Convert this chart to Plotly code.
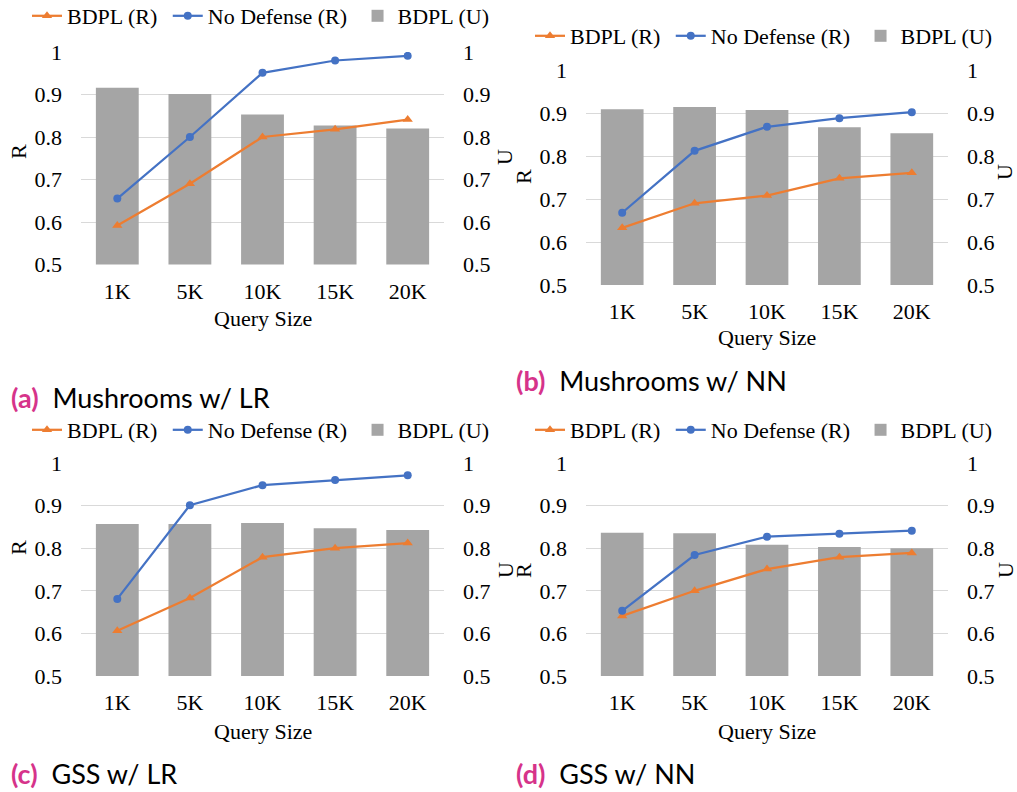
import plotly.graph_objects as go

categories = ["1K", "5K", "10K", "15K", "20K"]

# Panel (a) Mushrooms w/ LR
a_bdpl_r = [0.592, 0.690, 0.800, 0.818, 0.841]
a_nodef_r = [0.655, 0.800, 0.951, 0.980, 0.991]
a_bdpl_u = [0.916, 0.901, 0.853, 0.827, 0.820]

# Panel (b) Mushrooms w/ NN
b_bdpl_r = [0.633, 0.690, 0.708, 0.748, 0.761]
b_nodef_r = [0.668, 0.812, 0.868, 0.888, 0.902]
b_bdpl_u = [0.909, 0.914, 0.907, 0.867, 0.853]

# Panel (c) GSS w/ LR
c_bdpl_r = [0.606, 0.683, 0.779, 0.800, 0.812]
c_nodef_r = [0.681, 0.901, 0.948, 0.960, 0.971]
c_bdpl_u = [0.857, 0.857, 0.859, 0.847, 0.843]

# Panel (d) GSS w/ NN
d_bdpl_r = [0.641, 0.700, 0.751, 0.779, 0.789]
d_nodef_r = [0.653, 0.784, 0.827, 0.834, 0.841]
d_bdpl_u = [0.836, 0.835, 0.808, 0.803, 0.800]

y_ticks = [0.5, 0.6, 0.7, 0.8, 0.9, 1.0]
y_ticktext = ["0.5", "0.6", "0.7", "0.8", "0.9", "1"]

series_names = ["BDPL (R)", "No Defense (R)", "BDPL (U)"]

captions = [("(a)", "Mushrooms w/ LR"), ("(b)", "Mushrooms w/ NN"),
            ("(c)", "GSS w/ LR"), ("(d)", "GSS w/ NN")]

W, H = 1017, 792
ORANGE = "#ED7D31"
BLUE = "#4472C4"
GRAY = "#A5A5A5"
GRID = "#D9D9D9"
MAGENTA = "#D6338A"
SERIF = "Liberation Serif"
SANS = "Lato"
FS = 22
NB = "\u00a0"

# panel pixel geometry: (x0, x1, ytop(1.0), ybottom(0.5))
panels = [
    (81, 444, 52, 264.5),
    (586, 948, 70, 285),
    (81, 444, 463, 676),
    (586, 948, 463, 676),
]
data = [
    (a_bdpl_r, a_nodef_r, a_bdpl_u),
    (b_bdpl_r, b_nodef_r, b_bdpl_u),
    (c_bdpl_r, c_nodef_r, c_bdpl_u),
    (d_bdpl_r, d_nodef_r, d_bdpl_u),
]
# legend (x left, y centre) in pixels
legend_pos = [(27, 16), (530, 36), (27, 430), (530, 430)]
rtitle_pos = [(18, 152), (523, 177), (18, 548), (523, 571)]
utitle_pos = [(505, 157), (1005, 172), (505, 570), (1005, 570)]
caption_pos = [(9, 397), (514, 380), (9, 773), (514, 773)]
xtitle_y = [318, 338, 731, 731]

fig = go.Figure()
layout = {}
annotations = []

for i, ((x0, x1, yt, yb), (br, nr, bu)) in enumerate(zip(panels, data)):
    n = i + 1
    xa = "x" if n == 1 else f"x{n}"
    ybase_n = 2 * i + 1
    yover_n = 2 * i + 2
    yb_name = "y" if ybase_n == 1 else f"y{ybase_n}"
    yo_name = f"y{yover_n}"
    leg = "legend" if n == 1 else f"legend{n}"

    fig.add_trace(go.Scatter(
        x=categories, y=br, name=series_names[0] + NB, mode="lines+markers",
        line=dict(color=ORANGE, width=2.25),
        marker=dict(symbol="triangle-up", size=9, color=ORANGE),
        xaxis=xa, yaxis=yo_name, legend=leg))
    fig.add_trace(go.Scatter(
        x=categories, y=nr, name=series_names[1] + NB, mode="lines+markers",
        line=dict(color=BLUE, width=2.25),
        marker=dict(symbol="circle", size=8, color=BLUE),
        xaxis=xa, yaxis=yo_name, legend=leg))
    fig.add_trace(go.Bar(
        x=categories, y=bu, name=series_names[2],
        marker=dict(color=GRAY, line=dict(width=0)),
        xaxis=xa, yaxis=yb_name, legend=leg))

    xkey = "xaxis" if n == 1 else f"xaxis{n}"
    ybkey = "yaxis" if ybase_n == 1 else f"yaxis{ybase_n}"
    yokey = f"yaxis{yover_n}"
    dom_y = [1 - yb / H, 1 - yt / H]
    layout[xkey] = dict(
        domain=[x0 / W, x1 / W], anchor=yb_name, type="category",
        showgrid=False, zeroline=False, showline=False, ticks="",
        ticklabelstandoff=11, automargin=False,
        tickfont=dict(family=SERIF, size=FS, color="#000"))
    layout[ybkey] = dict(
        domain=dom_y, anchor=xa, side="right", range=[0.5, 1.0],
        tickvals=y_ticks, ticktext=y_ticktext, showgrid=True,
        gridcolor=GRID, gridwidth=1, zeroline=False, showline=False,
        ticks="", ticklabelstandoff=18, automargin=False,
        tickfont=dict(family=SERIF, size=FS, color="#000"))
    layout[yokey] = dict(
        overlaying=yb_name, anchor=xa, side="left", range=[0.5, 1.0],
        tickvals=y_ticks, ticktext=y_ticktext, showgrid=False,
        zeroline=False, showline=False, ticks="", ticklabelstandoff=18,
        automargin=False,
        tickfont=dict(family=SERIF, size=FS, color="#000"))

    lx, ly = legend_pos[i]
    layout[leg] = dict(
        orientation="h", xref="container", yref="container",
        x=lx / W, y=1 - ly / H, xanchor="left", yanchor="middle",
        font=dict(family=SERIF, size=FS, color="#000"),
        bgcolor="rgba(0,0,0,0)", itemwidth=30, traceorder="normal",
        tracegroupgap=0)

    annotations.append(dict(
        text="Query Size", x=(x0 + x1) / 2 / W, y=1 - xtitle_y[i] / H,
        xref="paper", yref="paper", showarrow=False, xanchor="center", yanchor="middle",
        font=dict(family=SERIF, size=FS, color="#000")))
    rx, ry = rtitle_pos[i]
    annotations.append(dict(
        text="R", x=rx / W, y=1 - ry / H, xref="paper", yref="paper",
        showarrow=False, textangle=-90, xanchor="center", yanchor="middle",
        font=dict(family=SERIF, size=FS, color="#000")))
    ux, uy = utitle_pos[i]
    annotations.append(dict(
        text="U", x=ux / W, y=1 - uy / H, xref="paper", yref="paper",
        showarrow=False, textangle=-90, xanchor="center", yanchor="middle",
        font=dict(family=SERIF, size=FS, color="#000")))
    cx, cy = caption_pos[i]
    lab, txt = captions[i]
    annotations.append(dict(
        text=f"<b><span style='color:{MAGENTA}'>{lab}</span></b>{NB}{NB}{txt}",
        x=cx / W, y=1 - cy / H, xref="paper", yref="paper", showarrow=False,
        xanchor="left", yanchor="middle",
        font=dict(family=SANS, size=27, color="#000")))

fig.update_layout(
    width=W, height=H, margin=dict(l=0, r=0, t=0, b=0, autoexpand=False),
    paper_bgcolor="white", plot_bgcolor="white",
    bargap=0.41, showlegend=True, annotations=annotations, **layout)

fig.write_html("out.html")
